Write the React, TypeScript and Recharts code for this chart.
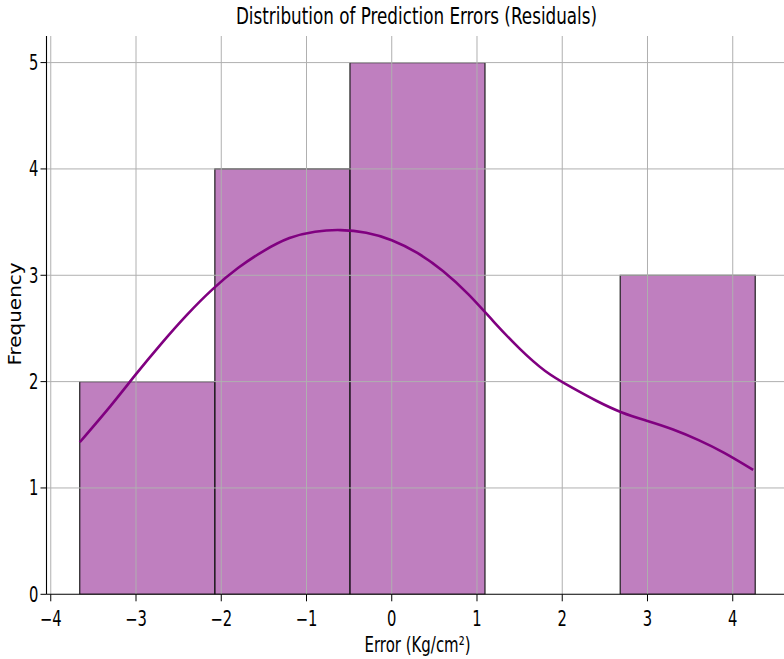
import React from 'react';
import { ComposedChart, Bar, Line, XAxis, YAxis, ReferenceLine } from 'recharts';

// Histogram bins (edges) and counts
const binEdges = [-3.66, -2.075, -0.49, 1.095, 2.68, 4.265];
const binCounts = [2, 4, 5, 0, 3];

// KDE curve points
const kdeX = [-3.66, -3.3, -3.0, -2.7, -2.4, -2.1, -1.8, -1.5, -1.2, -0.9, -0.6, -0.3, 0.0, 0.3, 0.6, 0.9, 1.2, 1.5, 1.8, 2.1, 2.4, 2.7, 3.0, 3.3, 3.6, 3.9, 4.24];
const kdeY = [1.43, 1.77, 2.07, 2.36, 2.63, 2.87, 3.07, 3.23, 3.35, 3.41, 3.425, 3.4, 3.33, 3.21, 3.04, 2.82, 2.56, 2.31, 2.1, 1.95, 1.82, 1.71, 1.63, 1.55, 1.45, 1.33, 1.17];

const xTicks = [-4, -3, -2, -1, 0, 1, 2, 3, 4];
const yTicks = [0, 1, 2, 3, 4, 5];
const xDomain: [number, number] = [-4.05, 4.66];
const yDomain: [number, number] = [0, 5.25];

const titleText = 'Distribution of Prediction Errors (Residuals)';
const xLabelText = 'Error (Kg/cm²)';
const yLabelText = 'Frequency';

const binData = binCounts.map((c, i) => ({ center: (binEdges[i] + binEdges[i + 1]) / 2, count: c }));
const kdeData = kdeX.map((x, i) => ({ x, y: kdeY[i] }));

const FONT = 'DejaVu Sans';
const SX = 0.72;

const fmt = (v: number) => (v < 0 ? '\u2212' + Math.abs(v) : String(v));

const XTick = (props: any) => {
  const { x, y, payload } = props;
  return (
    <text transform={`translate(${x} ${y + 24.5}) scale(${SX} 1)`} textAnchor="middle" fontFamily={FONT} fontSize={20.5} fill="#000">
      {fmt(payload.value)}
    </text>
  );
};

const YTick = (props: any) => {
  const { x, y, payload } = props;
  return (
    <text transform={`translate(${x} ${y + 7.5}) scale(${SX} 1)`} textAnchor="end" fontFamily={FONT} fontSize={20.5} fill="#000">
      {fmt(payload.value)}
    </text>
  );
};

export default function App() {
  return (
    <div style={{ position: 'absolute', left: 0, top: 0, width: 784, height: 659, overflow: 'hidden', background: '#fff' }}>
      <ComposedChart width={800} height={659} data={binData} barCategoryGap={0} margin={{ top: 36, right: 11, bottom: 34.7, left: 0 }}>
        <XAxis xAxisId="bins" dataKey="center" type="number" domain={xDomain} allowDataOverflow hide />
        <XAxis
          xAxisId={0}
          type="number"
          dataKey="x"
          domain={xDomain}
          allowDataOverflow
          ticks={xTicks}
          interval={0}
          height={30}
          tickSize={7}
          tickMargin={0}
          axisLine={{ stroke: '#000', strokeWidth: 1.1 }}
          tickLine={{ stroke: '#000', strokeWidth: 1 }}
          tick={<XTick />}
        />
        <XAxis
          xAxisId="top"
          orientation="top"
          type="number"
          domain={xDomain}
          allowDataOverflow
          height={0}
          tick={false}
          tickLine={false}
          axisLine={{ stroke: '#000', strokeWidth: 1.1 }}
        />
        <YAxis
          type="number"
          domain={yDomain}
          allowDataOverflow
          ticks={yTicks}
          interval={0}
          width={46.5}
          tickSize={6}
          tickMargin={2}
          axisLine={{ stroke: '#000', strokeWidth: 1.1 }}
          tickLine={{ stroke: '#000', strokeWidth: 1 }}
          tick={<YTick />}
        />
        <Bar
          xAxisId="bins"
          dataKey="count"
          fill="#800080"
          fillOpacity={0.5}
          stroke="#1e1e1e"
          strokeWidth={1.2}
          isAnimationActive={false}
          zIndex={300}
        />
        {xTicks.map((t) => (
          <ReferenceLine key={'gx' + t} x={t} xAxisId={0} stroke="#b0b0b0" strokeWidth={1} zIndex={350} />
        ))}
        {yTicks.filter((t) => t > 0).map((t) => (
          <ReferenceLine key={'gy' + t} y={t} xAxisId={0} stroke="#b0b0b0" strokeWidth={1} zIndex={350} />
        ))}
        <Line
          xAxisId={0}
          data={kdeData}
          dataKey="y"
          type="natural"
          stroke="#800080"
          strokeWidth={2.6}
          dot={false}
          activeDot={false}
          isAnimationActive={false}
          zIndex={400}
        />
      </ComposedChart>
      <svg width={784} height={659} style={{ position: 'absolute', left: 0, top: 0, pointerEvents: 'none' }}>
        <text transform={`translate(416.5 24) scale(0.73 1)`} textAnchor="middle" fontFamily={FONT} fontSize={23} fill="#000">
          {titleText}
        </text>
        <text transform={`translate(417.5 651.5) scale(0.68 1)`} textAnchor="middle" fontFamily={FONT} fontSize={22} fill="#000">
          {xLabelText}
        </text>
        <text transform={`translate(21 314) scale(0.86 1) rotate(-90)`} textAnchor="middle" fontFamily={FONT} fontSize={20} fill="#000">
          {yLabelText}
        </text>
      </svg>
    </div>
  );
}
